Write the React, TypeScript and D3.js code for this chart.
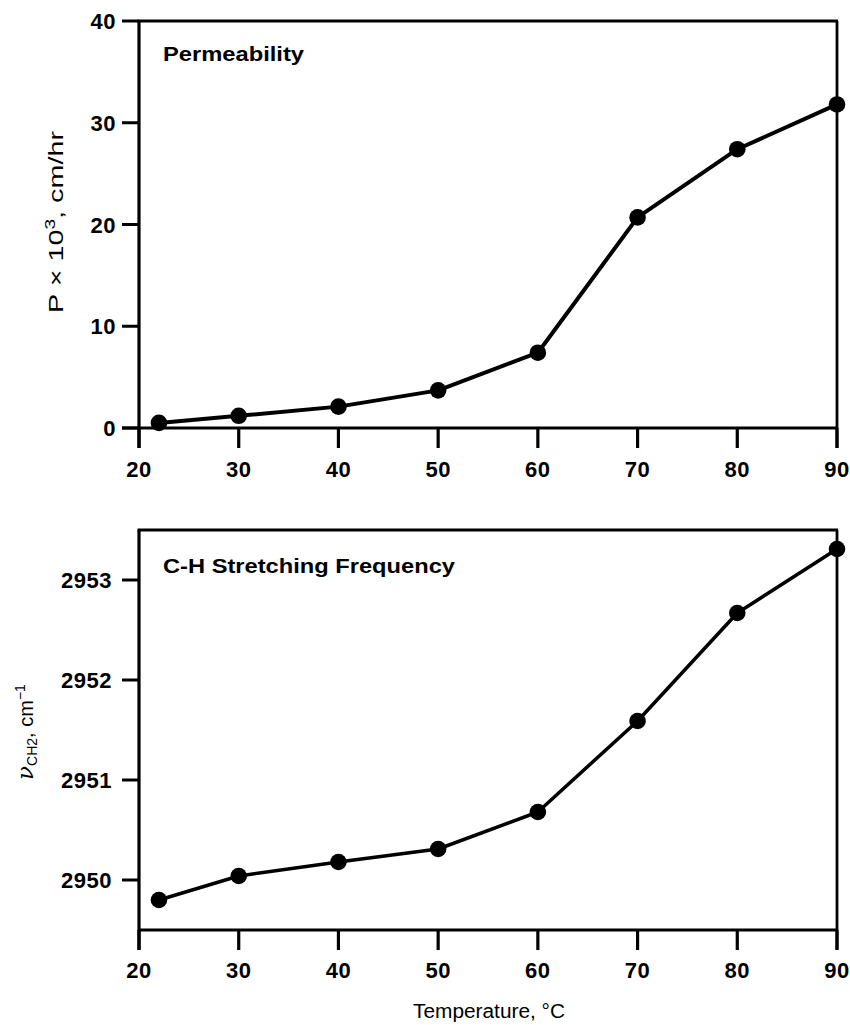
import React from "react";
import * as d3 from "d3";

const temps = [22, 30, 40, 50, 60, 70, 80, 90];
const permeability = [0.5, 1.2, 2.1, 3.7, 7.4, 20.7, 27.4, 31.8];
const stretching = [2949.8, 2950.04, 2950.18, 2950.31, 2950.68, 2951.59, 2952.67, 2953.31];
const xTicks = [20, 30, 40, 50, 60, 70, 80, 90];
const permTicks = [0, 10, 20, 30, 40];
const freqTicks = [2950, 2951, 2952, 2953];

const W = 850;
const H = 1025;
const FONT = "'Liberation Sans', Arial, Helvetica, sans-serif";

const x = d3.scaleLinear().domain([20, 90]).range([139, 837]);
const yTop = d3.scaleLinear().domain([0, 40]).range([428, 21]);
const yBot = d3.scaleLinear().domain([2949.5, 2953.5]).range([930, 530]);

function Panel({
  y,
  values,
  yTicks,
  title,
  titleLen,
  titleBaseline,
  xLabelBaseline,
  yLabelRight,
  lineWidth,
  extendXAxisLeft,
}: any) {
  const [y0, y1] = y.range();
  const left = x.range()[0];
  const right = x.range()[1];
  const line = d3
    .line<number>()
    .x((_, i) => x(temps[i]))
    .y((d) => y(d));
  const pts = values.map((v: number, i: number) => [x(temps[i]), y(v)]);
  return (
    <g>
      <line x1={left} x2={left} y1={y1} y2={y0 + 20} stroke="#000" strokeWidth={3.2} />
      <line x1={left - (extendXAxisLeft ? 17 : 0)} x2={right} y1={y0} y2={y0} stroke="#000" strokeWidth={3} />
      <line x1={left - 1.5} x2={right + 1} y1={y1} y2={y1} stroke="#000" strokeWidth={3} />
      <line x1={right} x2={right} y1={y1} y2={y0 + 20} stroke="#000" strokeWidth={2.8} />
      {xTicks.map((t) => (
        <g key={"xt" + t}>
          <line x1={x(t)} x2={x(t)} y1={y0} y2={y0 + 20} stroke="#000" strokeWidth={3.2} />
          <text
            x={x(t)}
            y={xLabelBaseline}
            textAnchor="middle"
            fontFamily={FONT}
            fontWeight="bold"
            fontSize={22}
            letterSpacing={0.5}
          >
            {t}
          </text>
        </g>
      ))}
      {yTicks.map((t: number) => (
        <g key={"yt" + t}>
          <line x1={left - 17} x2={left} y1={y(t)} y2={y(t)} stroke="#000" strokeWidth={3} />
          <text
            x={yLabelRight}
            y={y(t) + 8}
            textAnchor="end"
            fontFamily={FONT}
            fontWeight="bold"
            fontSize={22}
            letterSpacing={0.5}
          >
            {t}
          </text>
        </g>
      ))}
      <path d={line(values) || ""} fill="none" stroke="#000" strokeWidth={lineWidth} strokeLinejoin="round" />
      {pts.map((p: number[], i: number) => (
        <circle key={"p" + i} cx={p[0]} cy={p[1]} r={8.3} fill="#000" />
      ))}
      <text
        x={163}
        y={titleBaseline}
        fontFamily={FONT}
        fontWeight="bold"
        fontSize={21}
        textLength={titleLen}
        lengthAdjust="spacingAndGlyphs"
      >
        {title}
      </text>
    </g>
  );
}

export default function App() {
  return (
    <svg
      width={W}
      height={H}
      viewBox={`0 0 ${W} ${H}`}
      style={{ position: "absolute", left: 0, top: 0, background: "#fff" }}
    >
      <rect x={0} y={0} width={W} height={H} fill="#fff" />
      <Panel
        y={yTop}
        values={permeability}
        yTicks={permTicks}
        title="Permeability"
        titleLen={141}
        titleBaseline={61}
        xLabelBaseline={477}
        yLabelRight={116}
        lineWidth={4}
        extendXAxisLeft={true}
      />
      <Panel
        y={yBot}
        values={stretching}
        yTicks={freqTicks}
        title="C-H Stretching Frequency"
        titleLen={292}
        titleBaseline={573}
        xLabelBaseline={978}
        yLabelRight={112}
        lineWidth={3.5}
        extendXAxisLeft={false}
      />
      <text
        transform={`translate(63, 222) rotate(-90)`}
        textAnchor="middle"
        fontFamily={FONT}
        fontSize={21}
        textLength={182}
        lengthAdjust="spacingAndGlyphs"
      >
        P × 10<tspan baselineShift="super" fontSize={14}>3</tspan>, cm/hr
      </text>
      <text
        transform={`translate(33, 732) rotate(-90)`}
        textAnchor="middle"
        fontFamily={FONT}
        fontSize={20}
      >
        <tspan fontFamily="'DejaVu Serif', 'Liberation Serif', serif" fontStyle="italic" fontSize={23}>ν</tspan>
        <tspan baselineShift="-4" fontSize={14}>CH2</tspan>
        <tspan>, cm</tspan>
        <tspan baselineShift="super" fontSize={14}>−1</tspan>
      </text>
      <text
        x={489}
        y={1018}
        textAnchor="middle"
        fontFamily={FONT}
        fontSize={20}
        textLength={152}
        lengthAdjust="spacingAndGlyphs"
      >
        Temperature, °C
      </text>
    </svg>
  );
}
